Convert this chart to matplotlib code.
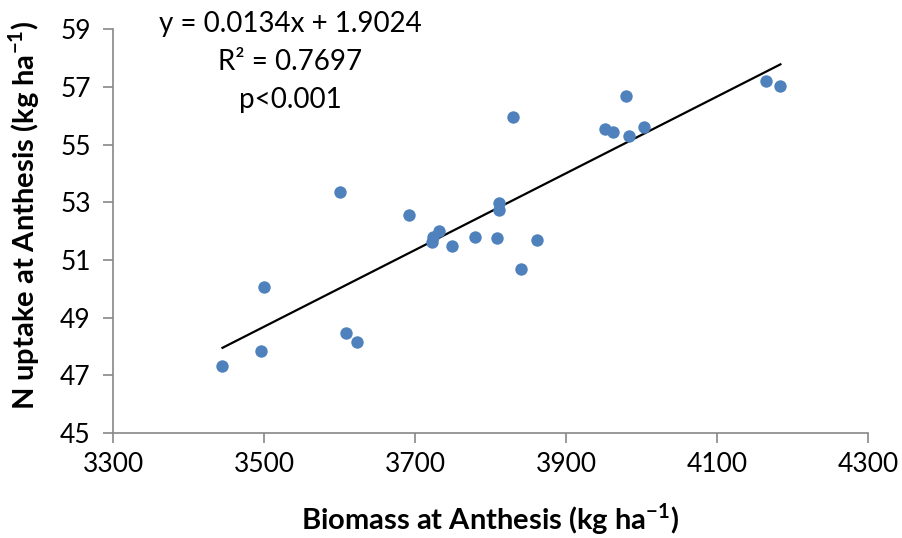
import numpy as np
import matplotlib.pyplot as plt

# biomass vs N uptake at anthesis
biomass = [3445, 3496, 3500, 3609, 3623, 3600, 3692, 3722, 3724, 3732,
           3749, 3779, 3808, 3811, 3811, 3830, 3840, 3862, 3952, 3962,
           3980, 3984, 4003, 4165, 4184]
n_uptake = [47.32, 47.86, 50.06, 48.47, 48.15, 53.35, 52.56, 51.62, 51.80, 52.02,
            51.49, 51.79, 51.75, 52.98, 52.75, 55.96, 50.69, 51.69, 55.53, 55.44,
            56.68, 55.30, 55.60, 57.21, 57.02]
x_ticks = [3300, 3500, 3700, 3900, 4100, 4300]
y_ticks = [45, 47, 49, 51, 53, 55, 57, 59]
stats_lines = ['y = 0.0134x + 1.9024', 'R² = 0.7697', 'p<0.001']

biomass = np.array(biomass)
n_uptake = np.array(n_uptake)

font = ['Lato', 'DejaVu Sans']
plt.rcParams['font.family'] = font
plt.rcParams['mathtext.fontset'] = 'custom'
plt.rcParams['mathtext.rm'] = 'Lato'
plt.rcParams['mathtext.bf'] = 'Lato:bold'

fig = plt.figure(figsize=(9.02, 5.38), dpi=100)
ax = fig.add_axes([0.1253, 0.1952, 0.837, 0.7503])

ax.scatter(biomass, n_uptake, s=80, color='#4F81BD', zorder=3, linewidths=0)

# linear trend line over the data range
coef = np.polyfit(biomass, n_uptake, 1)
xs = np.array([biomass.min(), biomass.max()])
ax.plot(xs, np.polyval(coef, xs), color='black', lw=1.6, zorder=2)

ax.set_xlim(3300, 4300)
ax.set_ylim(45, 59)
ax.set_xticks(x_ticks)
ax.set_yticks(y_ticks)

for s in ['top', 'right']:
    ax.spines[s].set_visible(False)
for s in ['left', 'bottom']:
    ax.spines[s].set_color('#888888')
    ax.spines[s].set_linewidth(1.2)
ax.tick_params(axis='both', direction='out', length=7, width=1.2, color='#888888',
               labelsize=19)
ax.tick_params(axis='x', pad=7)
ax.tick_params(axis='y', pad=9)

fig.text(0.543, 0.016, 'Biomass at Anthesis (kg ha$^{\\mathbf{-1}}$)', fontsize=21,
         fontweight='bold', ha='center', va='baseline')
fig.text(0.027, 0.60, 'N uptake at Anthesis (kg ha$^{\\mathbf{-1}}$)', fontsize=21,
         fontweight='bold', ha='center', va='center', rotation=90)

for i, line in enumerate(stats_lines):
    fig.text(0.322, 1 - (32 + 38 * i) / 538, line, ha='center', va='baseline',
             fontsize=20)

plt.savefig('out.png', dpi=100)
